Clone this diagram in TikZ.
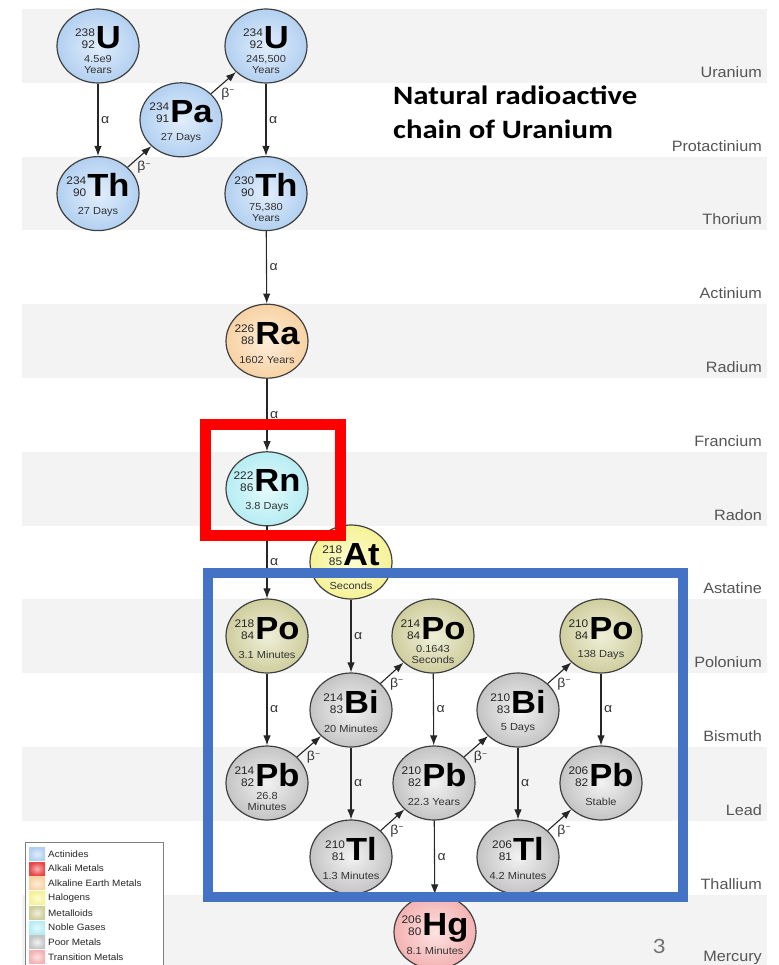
\documentclass[tikz,border=0pt]{standalone}
\usepackage{fontspec}
\setmainfont{Liberation Sans}[FakeStretch=1.08]
\newfontfamily\titlefont{Carlito}[FakeStretch=1.16]
\usetikzlibrary{shapes.geometric,arrows.meta,calc}
\definecolor{band}{HTML}{F3F3F3}
\definecolor{lbl}{HTML}{555555}
\definecolor{acIn}{HTML}{E2EEFB}\definecolor{acOut}{HTML}{B2D0F1}
\definecolor{akIn}{HTML}{F8B4B4}\definecolor{akOut}{HTML}{E84848}
\definecolor{aeIn}{HTML}{FDEDDA}\definecolor{aeOut}{HTML}{F8D2A4}
\definecolor{haIn}{HTML}{FDFDD4}\definecolor{haOut}{HTML}{F5F296}
\definecolor{mlIn}{HTML}{EFEFD9}\definecolor{mlOut}{HTML}{CFCE9E}
\definecolor{ngIn}{HTML}{E4FAFC}\definecolor{ngOut}{HTML}{B6EDF3}
\definecolor{pmIn}{HTML}{F2F2F2}\definecolor{pmOut}{HTML}{C4C4C4}
\definecolor{tmIn}{HTML}{FCE2E2}\definecolor{tmOut}{HTML}{F4B2B2}
\definecolor{boxred}{HTML}{FF0000}
\definecolor{boxblue}{HTML}{4472C4}
\newcommand\isoblock[3]{{\fontsize{11}{12}\selectfont\color{black!85}\begin{tabular}[b]{@{}r@{}}#1\\#2\end{tabular}}\kern1pt{\fontsize{32}{32}\selectfont\bfseries #3}}
\newcommand\nuc[8]{%
  \node[#4] (#1) at (#2,#3) {};
  \node[anchor=base, inner sep=0pt] (#1sym) at (#2,#3+3) {\isoblock{#5}{#6}{#7}};
  \node[hl] (#1hl) at (#2,#3+18.5) {#8};
}
\newcommand\betam{β\raisebox{0.65ex}{\fontsize{8}{8}\selectfont −}}
\begin{document}
\begin{tikzpicture}[x=1pt,y=-1pt,
  nucbase/.style={ellipse, draw=black!75, line width=1.2pt, minimum width=82pt, minimum height=74pt, inner sep=0pt},
  actin/.style={nucbase, inner color=acIn, outer color=acOut},
  alkearth/.style={nucbase, inner color=aeIn, outer color=aeOut},
  noble/.style={nucbase, inner color=ngIn, outer color=ngOut},
  halogen/.style={nucbase, inner color=haIn, outer color=haOut},
  metalloid/.style={nucbase, inner color=mlIn, outer color=mlOut},
  poor/.style={nucbase, inner color=pmIn, outer color=pmOut},
  trans/.style={nucbase, inner color=tmIn, outer color=tmOut},
  hl/.style={align=center, inner sep=0pt, text=black!80, font=\fontsize{10.2}{10.8}\selectfont},
  arr/.style={draw=black!85, line width=1.1pt, -{Latex[length=10pt,width=7.5pt]}},
  alab/.style={right=1.5pt, font=\fontsize{13}{13}\selectfont, text=black!80, inner sep=1pt},
  blab/.style={pos=0.35, anchor=north west, font=\fontsize{13}{13}\selectfont, text=black!80, inner sep=1pt},
  rowlbl/.style={anchor=east, font=\fontsize{15}{15}\selectfont, text=lbl, inner sep=0pt},
  titlestyle/.style={anchor=base west, inner sep=0pt, font=\titlefont\fontsize{26.5}{26.5}\selectfont\bfseries},
  legtxt/.style={anchor=west, inner sep=0pt, font=\fontsize{9.2}{9.2}\selectfont, text=black!85}
]
\useasboundingbox (0,0) rectangle (778,965);
\clip (0,0) rectangle (778,965);
% bands
\foreach \k in {0,2,...,12}
  \fill[band] (22,46+73.8*\k-37) rectangle (767,46+73.8*\k+36.8);
% row labels
\foreach \n [count=\k from 0] in {Uranium,Protactinium,Thorium,Actinium,Radium,Francium,Radon,Astatine,Polonium,Bismuth,Lead,Thallium,Mercury}
  \node[rowlbl] (row\k) at (762,46+73.8*\k+26) {\n};
% legend
\draw[draw=black!50, fill=white, line width=0.8pt] (25,842) rectangle (163,985);
\foreach \c/\t [count=\i from 0] in {ac/Actinides,ak/Alkali Metals,ae/Alkaline Earth Metals,ha/Halogens,ml/Metalloids,ng/Noble Gases,pm/Poor Metals,tm/Transition Metals}{
  \shade[inner color=\c In, outer color=\c Out] (29,854+14.7*\i-6.5) rectangle (45,854+14.7*\i+6.5);
  \node[legtxt] (leg\i) at (48,854+14.7*\i) {\t};
}
% title and page number
\node[titlestyle] (t1) at (393,105) {Natural radioactive};
\node[titlestyle] (t2) at (393,139) {chain of Uranium};
\node[font=\titlefont\fontsize{22}{22}\selectfont, text=black!55, inner sep=0pt] (pg) at (659,946) {3};
% nuclides
\nuc{At218}{351}{562}{halogen}{218}{85}{At}{1.5\\Seconds}
\nuc{U238}{98}{46}{actin}{238}{92}{U}{4.5e9\\Years}
\nuc{Pa234}{181}{119.8}{actin}{234}{91}{Pa}{27 Days}
\nuc{Th234}{98}{193.6}{actin}{234}{90}{Th}{27 Days}
\nuc{U234}{266}{46}{actin}{234}{92}{U}{245,500\\Years}
\nuc{Th230}{266}{193.6}{actin}{230}{90}{Th}{75,380\\Years}
\nuc{Ra226}{267}{341.2}{alkearth}{226}{88}{Ra}{1602 Years}
\nuc{Rn222}{267}{488.8}{noble}{222}{86}{Rn}{3.8 Days}
\nuc{Po218}{267}{636}{metalloid}{218}{84}{Po}{3.1 Minutes}
\nuc{Po214}{433}{636}{metalloid}{214}{84}{Po}{0.1643\\Seconds}
\nuc{Po210}{601}{636}{metalloid}{210}{84}{Po}{138 Days}
\nuc{Bi214}{351}{710}{poor}{214}{83}{Bi}{20 Minutes}
\nuc{Bi210}{518}{710}{poor}{210}{83}{Bi}{5 Days}
\nuc{Pb214}{267}{783}{poor}{214}{82}{Pb}{26.8\\Minutes}
\nuc{Pb210}{434}{783}{poor}{210}{82}{Pb}{22.3 Years}
\nuc{Pb206}{601}{783}{poor}{206}{82}{Pb}{Stable}
\nuc{Tl210}{351}{857}{poor}{210}{81}{Tl}{1.3 Minutes}
\nuc{Tl206}{518}{857}{poor}{206}{81}{Tl}{4.2 Minutes}
\nuc{Hg206}{435}{932}{trans}{206}{80}{Hg}{8.1 Minutes}
% decays
\draw[arr] (U238) -- node[alab]{α} (Th234);
\draw[arr] (Th234) -- node[blab]{\betam} (Pa234);
\draw[arr] (Pa234) -- node[blab]{\betam} (U234);
\draw[arr] (U234) -- node[alab]{α} (Th230);
\draw[arr] (Th230) -- node[alab]{α} (Ra226);
\draw[arr] (Ra226) -- node[alab]{α} (Rn222);
\draw[arr] (Rn222) -- node[alab]{α} (Po218);
\draw[arr] (At218) -- node[alab]{α} (Bi214);
\draw[arr] (Po218) -- node[alab]{α} (Pb214);
\draw[arr] (Pb214) -- node[blab]{\betam} (Bi214);
\draw[arr] (Bi214) -- node[blab]{\betam} (Po214);
\draw[arr] (Bi214) -- node[alab]{α} (Tl210);
\draw[arr] (Po214) -- node[alab]{α} (Pb210);
\draw[arr] (Tl210) -- node[blab]{\betam} (Pb210);
\draw[arr] (Pb210) -- node[blab]{\betam} (Bi210);
\draw[arr] (Pb210) -- node[alab]{α} (Hg206);
\draw[arr] (Bi210) -- node[blab]{\betam} (Po210);
\draw[arr] (Bi210) -- node[alab]{α} (Tl206);
\draw[arr] (Po210) -- node[alab]{α} (Pb206);
\draw[arr] (Tl206) -- node[blab]{\betam} (Pb206);
% highlight boxes
\draw[boxred, line width=11.5pt] (205.5,424.5) rectangle (340.5,535.5);
\draw[boxblue, line width=10pt] (208,573) rectangle (682.5,897);
\end{tikzpicture}
\end{document}
